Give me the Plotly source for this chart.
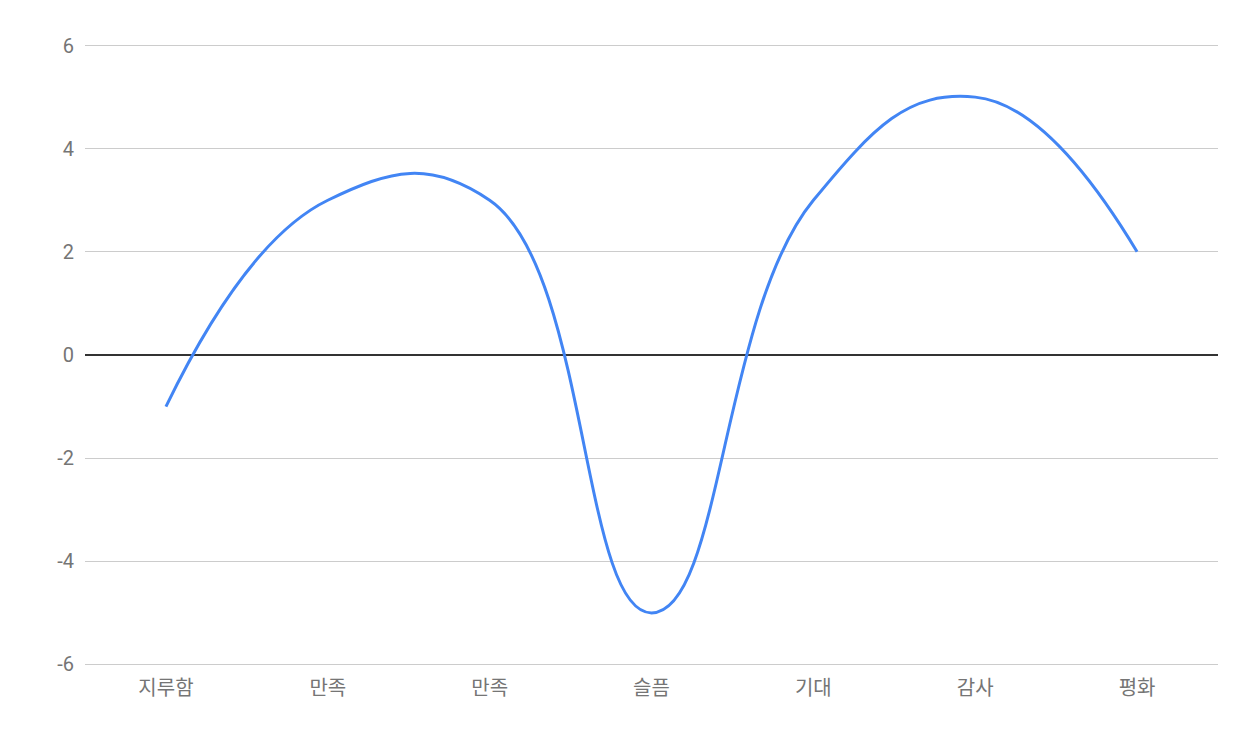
import plotly.graph_objects as go

categories = ["지루함", "만족", "만족", "슬픔", "기대", "감사", "평화"]
values = [-1, 3, 3, -5, 3, 5, 2]
positions = list(range(len(categories)))
y_ticks = [-6, -4, -2, 0, 2, 4, 6]
y_labels = ["-6", "-4", "-2", "0", "2", "4", "6"]

fig = go.Figure()

fig.add_trace(go.Scatter(
    x=positions,
    y=values,
    mode="lines",
    line=dict(color="#4285F4", width=3, shape="spline", smoothing=1.3),
    showlegend=False,
))

fig.update_layout(
    width=1248,
    height=734,
    margin=dict(l=77, r=38, t=36, b=76),
    plot_bgcolor="white",
    paper_bgcolor="white",
    font=dict(family="Roboto, Noto Sans CJK KR", size=20, color="#757575"),
    xaxis=dict(
        range=[-0.5, 6.5],
        tickvals=positions,
        ticktext=categories,
        showgrid=False,
        zeroline=False,
        showline=False,
        ticks="",
        ticklabelstandoff=8,
        tickfont=dict(family="Noto Sans CJK KR", size=20, color="#757575"),
    ),
    yaxis=dict(
        range=[-6.03, 6.03],
        tickvals=y_ticks,
        ticktext=y_labels,
        showgrid=True,
        gridcolor="#cccccc",
        gridwidth=1,
        zeroline=True,
        zerolinecolor="#333333",
        zerolinewidth=1.5,
        ticks="",
        ticklabelstandoff=10,
    ),
)

fig.write_html("out.html")
